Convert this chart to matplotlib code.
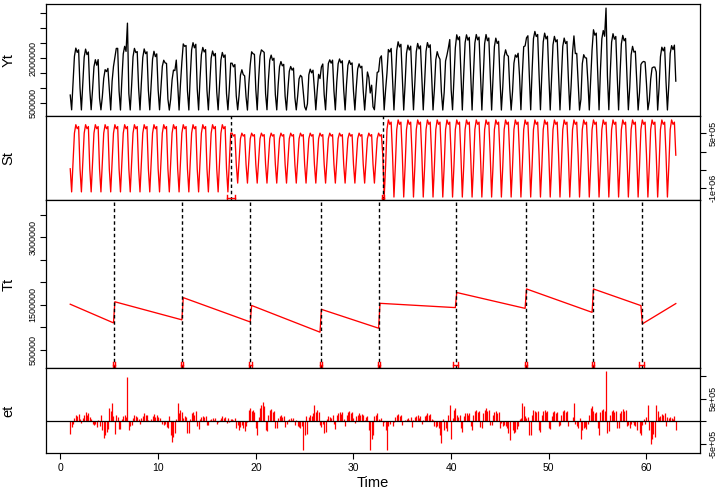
import numpy as np
import matplotlib
matplotlib.use("Agg")
import matplotlib.pyplot as plt

plt.rcParams["font.family"] = ["Liberation Sans", "DejaVu Sans"]

start_time = 1.0
frequency = 7

# weekly seasonal profile of each seasonal segment (millions)
season_seg1 = [-0.47, -1.10, -0.30, 0.50, 0.73, 0.62, 0.68]
season_seg2 = [-0.35, -0.86, -0.25, 0.35, 0.50, 0.42, 0.46]
season_seg3 = [-0.10, -1.24, -0.40, 0.60, 0.86, 0.74, 0.80]
season_breaks = [17.48, 33.0]
season_ci_low = [17.10, 32.88]
season_ci_high = [17.88, 33.12]

# piecewise linear trend (millions)
trend_breaks = [5.52, 12.47, 19.43, 26.69, 32.62, 40.49, 47.65, 54.5, 59.5]
trend_ci_low = [5.42, 12.37, 19.28, 26.59, 32.52, 40.22, 47.55, 54.40, 59.20]
trend_ci_high = [5.62, 12.57, 19.58, 26.79, 32.72, 40.74, 47.75, 54.60, 59.78]
trend_start = [1.516, 1.573, 1.670, 1.500, 1.404, 1.537, 1.780, 1.860, 1.860, 1.070]
trend_end = [1.093, 1.167, 1.122, 0.885, 0.980, 1.440, 1.420, 1.330, 1.480, 1.530]

# remainder, one row per week (units of 10 000)
resid = [
    -28, -13, -5, 8, 14, 12, 16,
    5, -4, 8, 15, 20, 14, 18,
    10, 6, -5, -8, -6, -12, 2,
    -10, 15, -20, -37, -30, -24, -18,
    30, 24, 41, 12, -28, 14, 9,
    -18, -17, 5, 12, 15, 10, 99,
    -20, -11, -8, 8, 14, 12, 10,
    5, -5, 8, 12, 18, 14, 15,
    3, 1, 6, 12, 16, 10, 14,
    10, 7, 0, -6, -8, -5, -12,
    -15, 12, -30, -45, -35, -25, 5,
    41, 18, 25, 20, 8, 12, 10,
    -25, -25, 5, 18, 20, 15, 22,
    -10, -17, 6, 10, 12, 9, 12,
    -8, -9, 2, 6, 8, 4, 7,
    -5, -1, 4, 8, 11, 7, 10,
    -3, 7, -2, 5, 6, 3, 8,
    -15, -9, -20, -12, -8, -15, -22,
    -10, -2, 25, 30, 22, 25, 20,
    -15, -31, 10, 30, 37, 42, 35,
    -20, -22, 15, 25, 28, 20, 24,
    -15, -14, 8, 12, 15, 10, 12,
    -12, -6, 3, 5, 7, 4, 8,
    -8, 3, -10, -12, -14, -10, -63,
    -30, 11, -28, 10, 15, 12, 18,
    37, 20, 25, 20, -8, -12, -5,
    -25, -24, 5, 12, 10, 8, 15,
    -5, -17, 15, 18, 20, 16, 20,
    5, -10, 15, 20, 22, 18, 20,
    8, -3, 12, 15, 18, 14, 16,
    15, 4, 10, 12, -20, -63, -40,
    -30, 12, 15, 18, 6, 4, 8,
    -10, -2, -20, -63, -10, -6, 0,
    -10, -1, 10, 14, 17, 12, 15,
    -8, 0, 4, 6, 7, 3, 10,
    -12, 2, 10, 12, 14, 8, 12,
    -5, 3, 12, 15, 18, 14, 17,
    5, 4, -10, -12, -11, -15, -30,
    -48, 5, -20, -15, -21, 15, 37,
    -40, 7, 25, 30, 14, 10, 15,
    -15, -24, 12, 18, 19, 14, 18,
    -10, -19, 15, 22, 25, 20, 24,
    -12, -14, 18, 25, 30, 22, 26,
    -8, -9, 15, 20, 23, 18, 20,
    -15, -4, -10, -8, -11, -15, -25,
    -41, 1, -20, -25, -23, -18, -10,
    5, 7, 41, 35, 12, 8, 10,
    -30, -31, 15, 25, 24, 20, 22,
    -20, -23, 15, 22, 26, 20, 24,
    -15, -16, 12, 20, 23, 18, 20,
    -10, -8, 15, 22, 25, 20, 22,
    -10, 0, 0, 10, 40, -6, -10,
    -15, 7, -40, -20, -15, -12, -18,
    -5, 15, 30, 35, 23, 18, 20,
    -15, -30, 20, 25, 28, 22, 111,
    -25, -22, 15, 22, 25, 20, 24,
    -15, -15, 18, 24, 27, 22, 25,
    -10, -7, -15, -5, -2, -8, -10,
    -20, 0, -25, -30, -8, 5, -5,
    10, 36, -20, -50, -40, -27, -35,
    37, 22, 10, 12, 16, 14, 18,
    -10, 9, 8, 10, 8, 5, 12,
    -20,
]

# build components
et = np.array(resid, dtype=float) * 1e4
n = len(et)
t = start_time + np.arange(n) / frequency

sseg = np.searchsorted(season_breaks, t, side="right")
profiles = np.array([season_seg1, season_seg2, season_seg3]) * 1e6
St = profiles[sseg, np.arange(n) % frequency]

edges = np.r_[t[0], trend_breaks, t[-1]]
tseg = np.searchsorted(trend_breaks, t, side="right")
frac = (t - edges[tseg]) / (edges[tseg + 1] - edges[tseg])
t0 = np.array(trend_start)[tseg]
t1 = np.array(trend_end)[tseg]
Tt = (t0 + frac * (t1 - t0)) * 1e6

Yt = Tt + St + et

fig = plt.figure(figsize=(7.19, 4.88), dpi=100)
L, W = 0.064, 0.9096
ax_y = fig.add_axes([L, 0.7623, W, 0.2305])
ax_s = fig.add_axes([L, 0.5902, W, 0.1721])
ax_t = fig.add_axes([L, 0.2459, W, 0.3443])
ax_e = fig.add_axes([L, 0.0717, W, 0.1742])
axes = [ax_y, ax_s, ax_t, ax_e]

ax_y.plot(t, Yt, color="black", lw=0.95)
ax_s.plot(t, St, color="red", lw=0.95)
ax_t.plot(t, Tt, color="red", lw=0.95)
ax_e.vlines(t, 0, et, color="red", lw=0.9)
ax_e.axhline(0, color="black", lw=0.9)

dash = (0, (2.5, 2))
for b in season_breaks:
    ax_s.axvline(b, color="black", ls=dash, lw=1.0)
for b in trend_breaks:
    ax_t.axvline(b, color="black", ls=dash, lw=1.0)


def draw_ci(ax, lows, highs, y_px, cap_px):
    h_px = ax.get_position().height * fig.get_figheight() * fig.dpi
    tr = ax.get_xaxis_transform()
    y0 = y_px / h_px
    dy = cap_px / h_px
    for a, b in zip(lows, highs):
        ax.plot([a, b], [y0, y0], color="red", lw=1.0, transform=tr)
        for x in (a, b):
            ax.plot([x, x], [y0 - dy, y0 + dy], color="red", lw=1.0, transform=tr)


draw_ci(ax_s, season_ci_low, season_ci_high, 1.5, 3.0)
draw_ci(ax_t, trend_ci_low, trend_ci_high, 3.2, 3.0)

ax_y.set_ylim(0.067e6, 3.82e6)
ax_s.set_ylim(-1.32e6, 0.967e6)
ax_t.set_ylim(0.10e6, 3.83e6)
ax_e.set_ylim(-0.70e6, 1.18e6)

big_ticks = np.arange(0.5e6, 3.51e6, 0.5e6)
ax_y.set_yticks(big_ticks)
ax_y.set_yticklabels(["500000", "", "", "2000000", "", "", ""])
ax_t.set_yticks(big_ticks)
ax_t.set_yticklabels(["500000", "", "1500000", "", "", "3000000", ""])
ax_s.set_yticks([-1e6, -5e5, 0, 5e5])
ax_s.set_yticklabels(["-1e+06", "", "", "5e+05"])
ax_e.set_yticks([-5e5, 0, 5e5, 1e6])
ax_e.set_yticklabels(["-5e+05", "", "5e+05", ""])

for ax, name in zip(axes, ["Yt", "St", "Tt", "et"]):
    ax.set_xlim(-1.48, 65.48)
    ax.set_xticks(range(0, 61, 10))
    ax.tick_params(direction="out", length=4, width=0.8)
    ax.tick_params(axis="y", labelsize=6.5, pad=2, labelrotation=90)
    ax.tick_params(axis="x", labelsize=7.5, pad=3)
    for lab in ax.get_yticklabels():
        lab.set_va("center")
    for s in ax.spines.values():
        s.set_linewidth(0.9)
    ax.set_ylabel(name, fontsize=10.5)
    ax.yaxis.set_label_coords(-0.047, 0.5)

for ax in [ax_s, ax_e]:
    ax.yaxis.tick_right()
    ax.yaxis.set_label_position("left")
    ax.yaxis.set_label_coords(-0.047, 0.5)
    for lab in ax.get_yticklabels():
        lab.set_va("center")

for ax in [ax_y, ax_s, ax_t]:
    ax.tick_params(axis="x", labelbottom=False)

ax_e.set_xlabel("Time", fontsize=10.5, labelpad=2)

fig.savefig("out.png", dpi=100)
